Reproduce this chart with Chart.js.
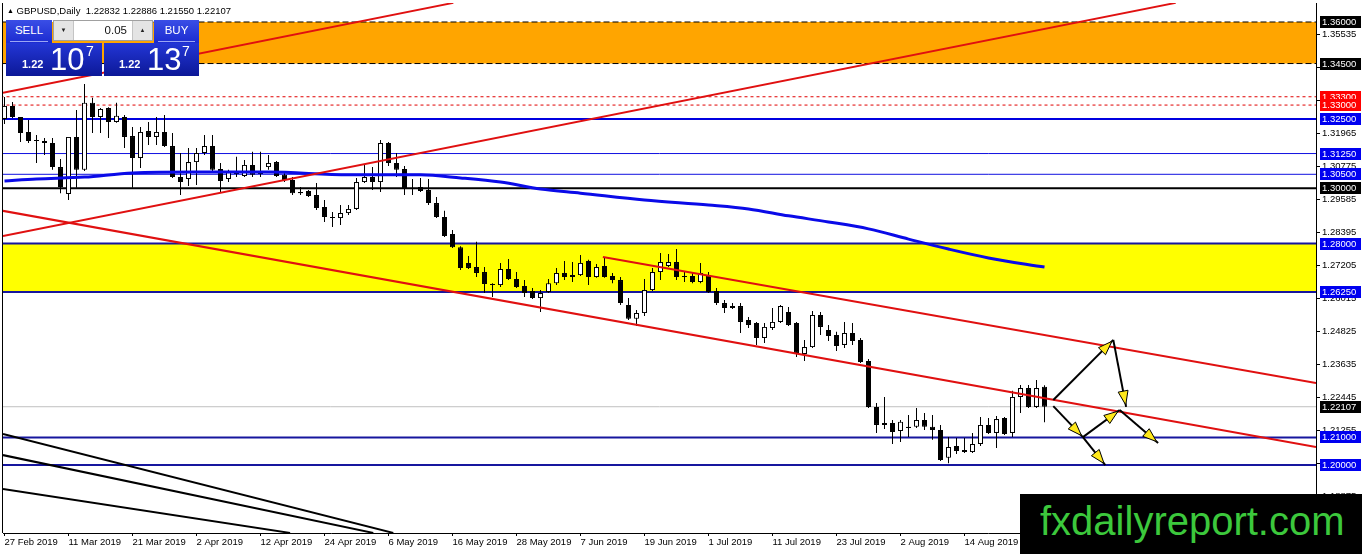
<!DOCTYPE html>
<html>
<head>
<meta charset="utf-8">
<title>GBPUSD, Daily</title>
<script src="https://cdn.jsdelivr.net/npm/chart.js@4.4.1/dist/chart.umd.min.js"></script>
<style>
  html, body { margin: 0; padding: 0; background: #fff; }
  #wrap { position: relative; width: 1362px; height: 554px; overflow: hidden;
          font-family: 'Liberation Sans', Arial, sans-serif; }
  #chart { position: absolute; left: 0; top: 0; }
  .title { position: absolute; left: 7px; top: 4px; font-size: 9.5px; line-height: 13px; color: #000; white-space: pre; }
  .title .tri { font-size: 7px; vertical-align: 1px; }
  .hdr { position: absolute; top: 20px; height: 23px; color: #fff; font-size: 11.5px; text-align: center;
         line-height: 21px; background: linear-gradient(#3a4ee6, #1b2bd0); }
  .hdr:after { content: ''; position: absolute; left: 4px; right: 4px; bottom: 1px; height: 1px; background: #9aa6f4; }
  .sell { left: 6px; width: 46px; }
  .buy { left: 154px; width: 45px; }
  .lot { position: absolute; left: 53px; top: 20px; width: 100px; height: 21px; background: #fff;
         border: 1px solid #a0a0a0; box-sizing: border-box; font-size: 11.5px; }
  .lot .dn, .lot .up { position: absolute; top: 0; width: 19px; height: 19px; background: #e4e4e4;
         font-size: 6px; line-height: 19px; text-align: center; color: #222; }
  .lot .dn { left: 0; border-right: 1px solid #c4c4c4; }
  .lot .up { right: 0; border-left: 1px solid #c4c4c4; }
  .lot .val { position: absolute; right: 25px; top: 3px; color: #111; }
  .big { position: absolute; top: 43px; height: 33px; color: #fff; background: linear-gradient(#2336d6, #0c1897); }
  .big span { position: absolute; line-height: 1; }
  .big .sm { top: 16px; font-size: 11px; font-weight: bold; }
  .big .lg { top: 1px; font-size: 31px; }
  .big .sup { top: 1px; font-size: 14px; }
  .sellbig { left: 6px; width: 96px; }
  .buybig { left: 104px; width: 95px; }
  #mark { position: absolute; left: 1020px; top: 494px; width: 342px; height: 60px; background: #000; }
  #mark span { position: absolute; left: 20px; top: 4px; font-size: 40px; line-height: 46px; color: #3cc83c; }
</style>
</head>
<body>
<div id="wrap">
  <canvas id="chart" width="1362" height="554"></canvas>
  <div class="title" id="title"></div>
  <div class="hdr sell">SELL</div>
  <div class="lot"><span class="dn">&#9660;</span><span class="val">0.05</span><span class="up">&#9650;</span></div>
  <div class="hdr buy">BUY</div>
  <div class="big sellbig"><span class="sm" style="left:16px">1.22</span><span class="lg" style="left:44px">10</span><span class="sup" style="left:80px">7</span></div>
  <div class="big buybig"><span class="sm" style="left:15px">1.22</span><span class="lg" style="left:43px">13</span><span class="sup" style="left:78px">7</span></div>
  <div id="mark"><span>fxdailyreport.com</span></div>
</div>
<script>
// daily bars, 27 Feb 2019 .. 28 Aug 2019 (bar index 0..130)
var opens = [
  1.3250, 1.3297, 1.3257, 1.3203, 1.3174, 1.3170, 1.3163, 1.3076, 1.2979, 1.3185,
  1.3066, 1.3308, 1.3257, 1.3289, 1.3239, 1.3257, 1.3188, 1.3109, 1.3206, 1.3185,
  1.3203, 1.3152, 1.3040, 1.3033, 1.3094, 1.3127, 1.3152, 1.3069, 1.3033, 1.3055,
  1.3044, 1.3084, 1.3051, 1.3076, 1.3094, 1.3048, 1.3029, 1.2986, 1.2990, 1.2975,
  1.2932, 1.2896, 1.2892, 1.2910, 1.2925, 1.3022, 1.3040, 1.3022, 1.3163, 1.3091,
  1.3069, 1.3001, 1.3004, 1.2993, 1.2946, 1.2896, 1.2834, 1.2787, 1.2730, 1.2715,
  1.2697, 1.2654, 1.2650, 1.2708, 1.2672, 1.2647, 1.2629, 1.2603, 1.2625, 1.2657,
  1.2694, 1.2679, 1.2686, 1.2737, 1.2679, 1.2719, 1.2683, 1.2668, 1.2578, 1.2528,
  1.2549, 1.2632, 1.2697, 1.2719, 1.2733, 1.2683, 1.2683, 1.2661, 1.2686, 1.2629,
  1.2585, 1.2567, 1.2574, 1.2524, 1.2513, 1.2459, 1.2495, 1.2517, 1.2553, 1.2513,
  1.2401, 1.2426, 1.2542, 1.2488, 1.2470, 1.2434, 1.2477, 1.2452, 1.2376, 1.2210,
  1.2145, 1.2152, 1.2123, 1.2138, 1.2138, 1.2163, 1.2138, 1.2127, 1.2026, 1.2069,
  1.2054, 1.2047, 1.2076, 1.2145, 1.2116, 1.2170, 1.2116, 1.2246, 1.2278, 1.2210,
  1.22832
];
var highs = [
  1.3329, 1.3311, 1.3257, 1.3246, 1.3192, 1.3181, 1.3181, 1.3105, 1.3185, 1.3282,
  1.3376, 1.3326, 1.3289, 1.3292, 1.3308, 1.3264, 1.3221, 1.3221, 1.3239, 1.3257,
  1.3264, 1.3199, 1.3127, 1.3145, 1.3145, 1.3192, 1.3192, 1.3091, 1.3066, 1.3113,
  1.3102, 1.3131, 1.3131, 1.3120, 1.3098, 1.3062, 1.3040, 1.3004, 1.2993, 1.3019,
  1.2957, 1.2914, 1.2939, 1.2939, 1.3037, 1.3084, 1.3076, 1.3174, 1.3167, 1.3127,
  1.3080, 1.3033, 1.3037, 1.3033, 1.2968, 1.2918, 1.2849, 1.2790, 1.2755, 1.2806,
  1.2715, 1.2657, 1.2730, 1.2744, 1.2697, 1.2668, 1.2639, 1.2632, 1.2672, 1.2712,
  1.2737, 1.2733, 1.2759, 1.2741, 1.2726, 1.2751, 1.2694, 1.2679, 1.2603, 1.2560,
  1.2672, 1.2712, 1.2766, 1.2762, 1.2780, 1.2697, 1.2697, 1.2730, 1.2697, 1.2639,
  1.2596, 1.2585, 1.2585, 1.2535, 1.2517, 1.2513, 1.2567, 1.2578, 1.2571, 1.2517,
  1.2452, 1.2556, 1.2553, 1.2506, 1.2481, 1.2517, 1.2513, 1.2459, 1.2383, 1.2224,
  1.2246, 1.2163, 1.2163, 1.2181, 1.2206, 1.2188, 1.2181, 1.2145, 1.2101, 1.2098,
  1.2098, 1.2116, 1.2174, 1.2170, 1.2177, 1.2174, 1.2268, 1.2289, 1.2289, 1.2307,
  1.22886
];
var lows = [
  1.3232, 1.3253, 1.3167, 1.3163, 1.3091, 1.3120, 1.3066, 1.2982, 1.2957, 1.3001,
  1.3062, 1.3199, 1.3199, 1.3181, 1.3236, 1.3145, 1.3001, 1.3073, 1.3156, 1.3156,
  1.3149, 1.3037, 1.2975, 1.3008, 1.3011, 1.3120, 1.3058, 1.2986, 1.3022, 1.3040,
  1.3040, 1.3040, 1.3040, 1.3066, 1.3040, 1.3022, 1.2975, 1.2975, 1.2968, 1.2921,
  1.2878, 1.2860, 1.2867, 1.2903, 1.2921, 1.3019, 1.2993, 1.2986, 1.3080, 1.3040,
  1.2975, 1.2975, 1.2986, 1.2939, 1.2892, 1.2824, 1.2784, 1.2704, 1.2708, 1.2679,
  1.2621, 1.2607, 1.2643, 1.2668, 1.2639, 1.2607, 1.2600, 1.2553, 1.2621, 1.2650,
  1.2668, 1.2661, 1.2683, 1.2650, 1.2676, 1.2676, 1.2657, 1.2578, 1.2524, 1.2502,
  1.2538, 1.2629, 1.2668, 1.2715, 1.2668, 1.2661, 1.2657, 1.2657, 1.2621, 1.2578,
  1.2549, 1.2564, 1.2477, 1.2495, 1.2434, 1.2441, 1.2488, 1.2513, 1.2502, 1.2390,
  1.2376, 1.2423, 1.2470, 1.2448, 1.2412, 1.2423, 1.2434, 1.2369, 1.2206, 1.2116,
  1.2130, 1.2076, 1.2083, 1.2101, 1.2134, 1.2127, 1.2091, 1.2015, 1.2007, 1.2040,
  1.2044, 1.2044, 1.2069, 1.2112, 1.2062, 1.2109, 1.2101, 1.2188, 1.2206, 1.2206,
  1.21550
];
var closes = [
  1.3297, 1.3257, 1.3199, 1.3170, 1.3170, 1.3163, 1.3076, 1.3004, 1.3185, 1.3066,
  1.3308, 1.3257, 1.3286, 1.3239, 1.3261, 1.3185, 1.3109, 1.3203, 1.3185, 1.3203,
  1.3152, 1.3040, 1.3022, 1.3094, 1.3127, 1.3152, 1.3066, 1.3026, 1.3058, 1.3051,
  1.3084, 1.3048, 1.3062, 1.3091, 1.3044, 1.3029, 1.2982, 1.2982, 1.2972, 1.2928,
  1.2896, 1.2892, 1.2910, 1.2925, 1.3022, 1.3040, 1.3022, 1.3163, 1.3091, 1.3066,
  1.2997, 1.2997, 1.2990, 1.2946, 1.2896, 1.2827, 1.2787, 1.2712, 1.2712, 1.2694,
  1.2654, 1.2650, 1.2708, 1.2672, 1.2643, 1.2621, 1.2603, 1.2621, 1.2657, 1.2694,
  1.2679, 1.2686, 1.2730, 1.2679, 1.2715, 1.2679, 1.2668, 1.2585, 1.2528, 1.2549,
  1.2632, 1.2697, 1.2733, 1.2733, 1.2679, 1.2679, 1.2661, 1.2694, 1.2625, 1.2585,
  1.2567, 1.2574, 1.2517, 1.2506, 1.2459, 1.2499, 1.2517, 1.2574, 1.2506, 1.2405,
  1.2426, 1.2542, 1.2499, 1.2466, 1.2430, 1.2477, 1.2448, 1.2372, 1.2210, 1.2145,
  1.2152, 1.2119, 1.2156, 1.2134, 1.2163, 1.2138, 1.2127, 1.2018, 1.2065, 1.2051,
  1.2047, 1.2076, 1.2145, 1.2116, 1.2166, 1.2112, 1.2246, 1.2278, 1.2210, 1.2278,
  1.22107
];

// moving average, read at sample bars
var maBars = [0, 4, 10, 16, 24, 33, 43, 52, 57, 62, 67, 72, 80, 88, 93, 98, 103, 108, 113, 118, 123, 130];
var maValues = [1.3026, 1.3033, 1.3040, 1.3055, 1.3058, 1.3058, 1.3048, 1.3048, 1.3037, 1.3022, 1.2997,
                1.2982, 1.2957, 1.2939, 1.2925, 1.2900, 1.2878, 1.2853, 1.2816, 1.2780, 1.2748, 1.2715];

// date labels on the time axis
var tickBars = [0, 8, 16, 24, 32, 40, 48, 56, 64, 72, 80, 88, 96, 104, 112, 120, 128];
var tickLabels = ['27 Feb 2019', '11 Mar 2019', '21 Mar 2019', '2 Apr 2019', '12 Apr 2019', '24 Apr 2019',
                  '6 May 2019', '16 May 2019', '28 May 2019', '7 Jun 2019', '19 Jun 2019', '1 Jul 2019',
                  '11 Jul 2019', '23 Jul 2019', '2 Aug 2019', '14 Aug 2019', '26 Aug 2019'];
var priceTicks = [1.35535, 1.34345, 1.33155, 1.31965, 1.30775, 1.29585, 1.28395, 1.27205,
                  1.26015, 1.24825, 1.23635, 1.22445, 1.21255, 1.20065, 1.18875];

// horizontal levels and zones
var orangeZone = [1.3450, 1.3600];
var yellowZone = [1.2625, 1.2800];
var blackDashLevels = [1.3600, 1.3450];
var redDashLevels = [1.3330, 1.3300];
var blueLevels = [1.3250];
var thinBlueLevels = [1.3125, 1.3050];
var blackLevels = [1.3000];
var navyLevels = [1.2800, 1.2625, 1.2100, 1.2000];
var bidPrice = 1.22107;

// drawn trend lines [bar, price] -> [bar, price]
var redTrends = [
  [[-0.19, 1.3344], [56.1, 1.3669]],
  [[-0.19, 1.2827], [146.4, 1.3669]],
  [[-0.19, 1.2918], [163.94, 1.2065]],
  [[74.8, 1.2751], [163.94, 1.2296]]
];
var blackTrends = [
  [[-0.19, 1.2112], [48.6, 1.1755]],
  [[-0.19, 1.2036], [46.1, 1.1755]],
  [[-0.19, 1.1914], [35.7, 1.1755]]
];
var arrowFrom = [[131.1, 1.2235], [138.6, 1.2452], [131.1, 1.2213], [134.8, 1.2101], [134.8, 1.2101], [139.4, 1.2199]];
var arrowTo = [[138.6, 1.2452], [140.2, 1.2210], [134.8, 1.2101], [137.6, 1.2000], [139.4, 1.2199], [144.2, 1.2080]];

var X_MIN = -0.1875, X_MAX = 163.9375;
var Y_MIN = 1.17547, Y_MAX = 1.36686;
var FONT = "'Liberation Sans', Arial, sans-serif";

(function () {
    var last = opens.length - 1;
    document.getElementById('title').innerHTML = '<span class="tri">&#9650;</span> GBPUSD,Daily  ' +
        [opens[last], highs[last], lows[last], closes[last]].map(function (v) { return v.toFixed(5); }).join(' ');

    var datasets = [];

    var segment = function (a, b, color, width, order, dash) {
        return {
            type: 'line',
            data: [{ x: a[0], y: a[1] }, { x: b[0], y: b[1] }],
            borderColor: color,
            borderWidth: width,
            borderDash: dash || [],
            pointRadius: 0,
            fill: false,
            clip: 0,
            order: order
        };
    };

    var level = function (v, color, width, dash) {
        return segment([-5, v], [200, v], color, width, 90, dash);
    };

    var zone = function (z, color) {
        return {
            type: 'line',
            data: [{ x: -5, y: z[1] }, { x: 200, y: z[1] }],
            borderWidth: 0,
            borderColor: 'rgba(0,0,0,0)',
            backgroundColor: color,
            fill: { value: z[0] },
            pointRadius: 0,
            clip: 0,
            order: 100
        };
    };

    datasets.push(zone(orangeZone, '#ffa500'));
    datasets.push(zone(yellowZone, '#ffff00'));

    // candles
    var wicks = [], bodies = [], bodyColors = [];
    for (var i = 0; i < opens.length; i++) {
        wicks.push({ x: i, y: [lows[i], highs[i]] });
        bodies.push({ x: i, y: [opens[i], closes[i]] });
        bodyColors.push(closes[i] >= opens[i] ? '#ffffff' : '#000000');
    }
    datasets.push({
        data: wicks,
        backgroundColor: '#000',
        borderWidth: 0,
        maxBarThickness: 1,
        grouped: false,
        order: 60
    });
    datasets.push({
        data: bodies,
        backgroundColor: bodyColors,
        borderColor: '#000',
        borderWidth: 1,
        borderSkipped: false,
        maxBarThickness: 5,
        minBarLength: 1,
        grouped: false,
        order: 59
    });

    blackDashLevels.forEach(function (v) { datasets.push(level(v, '#000', 1, [6, 3])); });
    redDashLevels.forEach(function (v) { datasets.push(level(v, '#e00000', 1, [3, 3])); });
    blueLevels.forEach(function (v) { datasets.push(level(v, '#0000e0', 2)); });
    thinBlueLevels.forEach(function (v) { datasets.push(level(v, '#1010e0', 1)); });
    blackLevels.forEach(function (v) { datasets.push(level(v, '#000', 2)); });
    navyLevels.forEach(function (v) { datasets.push(level(v, '#16169e', 2)); });
    datasets.push(segment([-5, bidPrice], [200, bidPrice], '#c0c0c0', 1, 95));

    datasets.push({
        type: 'line',
        data: maBars.map(function (b, k) { return { x: b, y: maValues[k] }; }),
        borderColor: '#0a0ae8',
        borderWidth: 3,
        cubicInterpolationMode: 'monotone',
        pointRadius: 0,
        fill: false,
        clip: 0,
        order: 40
    });

    redTrends.forEach(function (t) { datasets.push(segment(t[0], t[1], '#e01010', 2, 30)); });
    blackTrends.forEach(function (t) { datasets.push(segment(t[0], t[1], '#000', 2, 30)); });
    arrowFrom.forEach(function (a, k) { datasets.push(segment(a, arrowTo[k], '#000', 2, 20)); });

    var frame = {
        id: 'frame',
        afterDraw: function (chart) {
            var a = chart.chartArea, ctx = chart.ctx;
            ctx.save();
            ctx.fillStyle = '#000';
            ctx.fillRect(a.left - 1, a.top, 1, a.bottom - a.top);
            ctx.restore();
        }
    };

    var arrowHeads = {
        id: 'arrowHeads',
        afterDatasetsDraw: function (chart) {
            var xs = chart.scales.x, ys = chart.scales.y, ctx = chart.ctx;
            ctx.save();
            arrowFrom.forEach(function (a, k) {
                var b = arrowTo[k];
                var x1 = xs.getPixelForValue(a[0]), y1 = ys.getPixelForValue(a[1]);
                var x2 = xs.getPixelForValue(b[0]), y2 = ys.getPixelForValue(b[1]);
                var ang = Math.atan2(y2 - y1, x2 - x1);
                var tx = x2 - Math.cos(ang) * 2, ty = y2 - Math.sin(ang) * 2;
                var bx = tx - Math.cos(ang) * 14, by = ty - Math.sin(ang) * 14;
                ctx.beginPath();
                ctx.moveTo(tx, ty);
                ctx.lineTo(bx + Math.sin(ang) * 5, by - Math.cos(ang) * 5);
                ctx.lineTo(bx - Math.sin(ang) * 5, by + Math.cos(ang) * 5);
                ctx.closePath();
                ctx.fillStyle = '#ffe81a';
                ctx.fill();
                ctx.strokeStyle = '#000';
                ctx.lineWidth = 1;
                ctx.stroke();
            });
            ctx.restore();
        }
    };

    var priceBoxes = {
        id: 'priceBoxes',
        afterDraw: function (chart) {
            var ys = chart.scales.y, ctx = chart.ctx, left = chart.chartArea.right + 4;
            var boxes = [];
            blackDashLevels.concat(blackLevels).forEach(function (v) { boxes.push([v, '#000']); });
            redDashLevels.forEach(function (v) { boxes.push([v, '#ff0000']); });
            blueLevels.concat(thinBlueLevels, navyLevels).forEach(function (v) { boxes.push([v, '#0000f0']); });
            boxes.push([bidPrice, '#000']);
            ctx.save();
            ctx.font = '9.5px ' + FONT;
            ctx.textBaseline = 'middle';
            ctx.textAlign = 'left';
            boxes.forEach(function (b) {
                var py = Math.round(ys.getPixelForValue(b[0]));
                ctx.fillStyle = b[1];
                ctx.fillRect(left, py - 6, 41, 12);
                ctx.fillStyle = '#fff';
                ctx.fillText(b[0].toFixed(5), left + 2, py + 0.5);
            });
            ctx.restore();
        }
    };

    new Chart(document.getElementById('chart'), {
        type: 'bar',
        data: { datasets: datasets },
        options: {
            responsive: false,
            animation: false,
            events: [],
            layout: { padding: { left: 3, top: 3, right: 0, bottom: 0 } },
            plugins: { legend: { display: false }, tooltip: { enabled: false } },
            scales: {
                x: {
                    type: 'linear',
                    min: X_MIN,
                    max: X_MAX,
                    offset: false,
                    bounds: 'data',
                    grid: { display: true, offset: false, drawOnChartArea: false, tickLength: 3, color: '#000' },
                    border: { display: true, color: '#000', width: 1 },
                    ticks: {
                        autoSkip: false,
                        maxRotation: 0,
                        align: 'start',
                        padding: 1,
                        color: '#000',
                        font: { family: FONT, size: 9.5 },
                        callback: function (v) {
                            var k = tickBars.indexOf(v);
                            return k < 0 ? '' : tickLabels[k];
                        }
                    },
                    afterBuildTicks: function (s) { s.ticks = tickBars.map(function (v) { return { value: v }; }); },
                    afterFit: function (s) { s.height = 21; s.paddingLeft = 0; s.paddingRight = 0; }
                },
                y: {
                    type: 'linear',
                    position: 'right',
                    min: Y_MIN,
                    max: Y_MAX,
                    bounds: 'data',
                    beginAtZero: false,
                    grid: { display: true, drawOnChartArea: false, tickLength: 4, color: '#000' },
                    border: { display: true, color: '#000', width: 1 },
                    ticks: {
                        padding: 2,
                        color: '#000',
                        font: { family: FONT, size: 9.5 },
                        callback: function (v) { return Number(v).toFixed(5); }
                    },
                    afterBuildTicks: function (s) { s.ticks = priceTicks.map(function (v) { return { value: v }; }); },
                    afterFit: function (s) { s.width = 46; s.paddingTop = 0; s.paddingBottom = 0; }
                }
            }
        },
        plugins: [frame, arrowHeads, priceBoxes]
    });
})();
</script>
</body>
</html>
